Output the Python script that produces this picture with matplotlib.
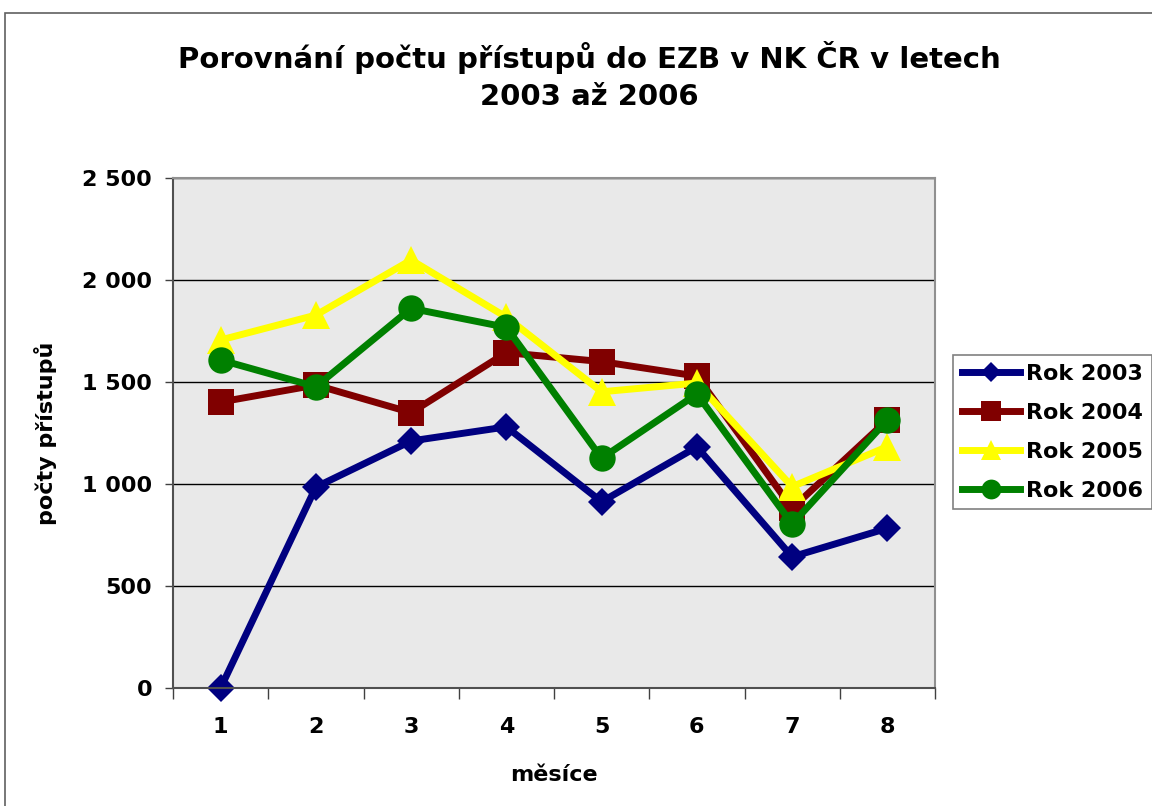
import matplotlib
matplotlib.use("Agg")
import matplotlib.pyplot as plt
from matplotlib.patches import Rectangle

months = [1, 2, 3, 4, 5, 6, 7, 8]
month_labels = ["1", "2", "3", "4", "5", "6", "7", "8"]
rok_2003 = [0, 985, 1211, 1280, 913, 1182, 643, 783]
rok_2004 = [1402, 1485, 1350, 1644, 1600, 1529, 881, 1314]
rok_2005 = [1706, 1828, 2098, 1818, 1452, 1495, 987, 1183]
rok_2006 = [1608, 1477, 1861, 1768, 1126, 1441, 804, 1314]
series_names = ["Rok 2003", "Rok 2004", "Rok 2005", "Rok 2006"]
y_ticks = [0, 500, 1000, 1500, 2000, 2500]
y_tick_labels = ["0", "500", "1 000", "1 500", "2 000", "2 500"]

plt.rcParams['font.family'] = ['DejaVu Sans']

W, H = 1152, 806
fig = plt.figure(figsize=(W / 100, H / 100), dpi=100)
fig.patch.set_facecolor('white')

# outer chart border
fig.patches.append(Rectangle((5 / W, -0.05), 1.2, 1 - 13 / H + 0.05,
                             transform=fig.transFigure, fill=False,
                             edgecolor='#606060', linewidth=1.2))

left, right, top, bottom = 173 / W, 935 / W, 1 - 178 / H, 1 - 688 / H
ax = fig.add_axes([left, bottom, right - left, top - bottom])
ax.set_facecolor('#e9e9e9')

styles = [
    dict(color='#000080', marker='D', markersize=14),
    dict(color='#800000', marker='s', markersize=19),
    dict(color='#FFFF00', marker='^', markersize=20),
    dict(color='#008000', marker='o', markersize=19),
]
for vals, name, st in zip([rok_2003, rok_2004, rok_2005, rok_2006], series_names, styles):
    ax.plot(months, vals, linewidth=5, label=name, clip_on=False,
            markeredgewidth=0, solid_joinstyle='miter', **st)

ax.set_xlim(0.5, 8.5)
ax.set_ylim(0, 2500)
ax.set_yticks(y_ticks)
ax.set_yticklabels(y_tick_labels, fontsize=16, fontweight='bold')
ax.set_xticks(months)
ax.set_xticklabels(month_labels, fontsize=16, fontweight='bold')
ax.tick_params(axis='x', which='major', length=0, pad=21)
ax.set_xticks([m + 0.5 for m in [0] + months], minor=True)
ax.tick_params(axis='x', which='minor', length=8, width=1, color='#404040')
ax.tick_params(axis='y', which='major', length=6, width=1, color='#404040', pad=9)

ax.grid(axis='y', color='black', linewidth=1)
ax.set_axisbelow(True)
for side in ['top', 'right']:
    ax.spines[side].set_color('#909090')
    ax.spines[side].set_linewidth(1.5)
for side in ['left', 'bottom']:
    ax.spines[side].set_color('#505050')
    ax.spines[side].set_linewidth(1.5)

ax.set_ylabel("počty přístupů", fontsize=16, fontweight='bold', labelpad=18)
ax.set_xlabel("měsíce", fontsize=16, fontweight='bold', labelpad=20)

fig.text(589 / W, 1 - 76 / H, "Porovnání počtu přístupů do EZB v NK ČR v letech\n2003 až 2006",
         ha='center', va='center', fontsize=21, fontweight='bold', linespacing=1.45)

leg = ax.legend(loc='upper left', bbox_to_anchor=(953 / W, 1 - 355 / H),
                bbox_transform=fig.transFigure, borderaxespad=0,
                prop=dict(size=16, weight='bold'), handlelength=2.6,
                markerscale=0.75, frameon=True, fancybox=False,
                borderpad=0.4, labelspacing=0.85, handletextpad=0.3)
leg.get_frame().set_edgecolor('#606060')
leg.get_frame().set_linewidth(1.2)

fig.savefig('out.png', dpi=100)
